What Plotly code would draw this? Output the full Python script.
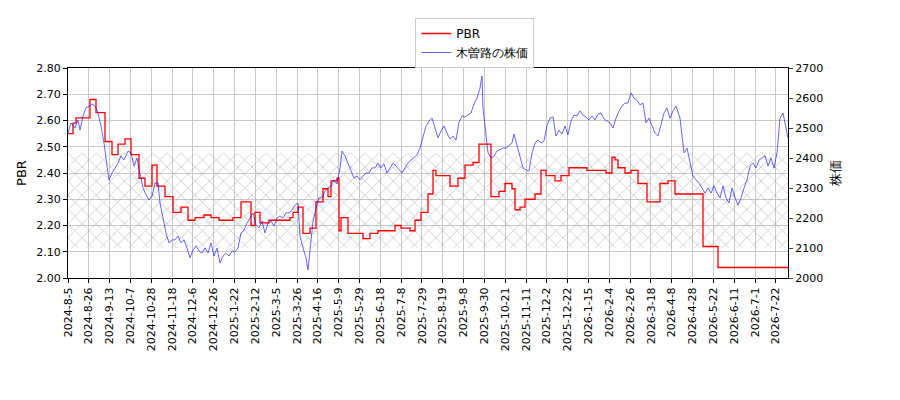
import plotly.graph_objects as go

# x positions are trading-session positions (evenly spaced sessions)
POS_SCALE = 14 / 20.82  # sessions per index unit

tick_labels = ["2024-8-5","2024-8-26","2024-9-13","2024-10-7","2024-10-28","2024-11-18","2024-12-6",
               "2024-12-26","2025-1-22","2025-2-12","2025-3-5","2025-3-26","2025-4-16","2025-5-9",
               "2025-5-29","2025-6-18","2025-7-8","2025-7-29","2025-8-19","2025-9-8","2025-9-30",
               "2025-10-21","2025-11-11","2025-12-2","2025-12-22","2026-1-15","2026-2-4","2026-2-26",
               "2026-3-18","2026-4-8","2026-4-28","2026-5-22","2026-6-11","2026-7-1","2026-7-22"]
tick_step = 14

pbr_idx = [0,5,8,22,28,37,44,50,57,63, 71,77,84,89,97,105,113,120,127,136,
           143,151,165,173,183,187,192,201,222,225, 230,235,242,248,255,260,263,269,271,273,
           280,295,302,310,327,333,342,347,353,360, 365,368,382,390,397,405,411,423,431,437,
           444,447,452,457,467,473,478,487,493,501, 519,538,544,547,550,557,563,570,579,592,
           600,607,635,650,720]
pbr_val = [2.55,2.59,2.61,2.68,2.63,2.52,2.47,2.51,2.53,2.47, 2.38,2.35,2.43,2.35,2.31,2.25,2.27,2.22,2.23,2.24,
           2.23,2.22,2.23,2.29,2.20,2.25,2.21,2.22,2.23,2.25, 2.27,2.17,2.19,2.29,2.34,2.31,2.37,2.38,2.18,2.23,
           2.17,2.15,2.17,2.18,2.20,2.19,2.18,2.22,2.25,2.32, 2.41,2.39,2.35,2.38,2.43,2.44,2.51,2.31,2.33,2.36,
           2.34,2.26,2.27,2.30,2.32,2.41,2.39,2.37,2.39,2.42, 2.41,2.40,2.46,2.45,2.42,2.40,2.41,2.36,2.29,2.36,
           2.37,2.32,2.12,2.04,2.04]

px_idx = [0,3,7,10,12,15,18,22,25,28, 30,33,36,39,41,44,47,50,53,56,
          60,63,66,69,72,75,78,81,84,87, 90,92,95,98,101,104,107,110,113,116,
          119,122,125,128,131,134,137,140,143,146, 149,152,155,158,161,164,167,170,173,176,
          179,182,185,188,191,194,197,200,203,206, 209,212,215,218,221,224,227,230,232,235,
          238,240,242,245,248,251,254,257,260,263, 266,269,272,274,277,280,283,286,289,292,
          295,298,301,304,307,310,313,316,319,322, 325,328,331,334,337,340,343,346,349,352,
          355,358,361,364,367,370,373,376,379,382, 385,388,391,394,397,400,403,406,409,412,
          414,415,417,420,423,426,429,432,435,438, 441,444,446,449,452,455,458,461,464,467,
          470,473,476,479,482,485,488,491,494,497, 500,503,506,509,512,515,518,521,524,527,
          530,533,536,539,542,545,548,551,554,557, 560,563,566,569,572,575,578,581,584,587,
          590,593,596,599,602,605,608,612,616,619, 622,625,628,631,634,637,640,643,646,649,
          652,655,658,661,664,667,670,673,676,679, 682,685,688,691,694,697,700,703,706,709,
          712,715,718,720]
price = [2483,2517,2500,2527,2493,2540,2567,2573,2580,2567, 2550,2507,2450,2373,2327,2350,2367,2383,2407,2393,
         2423,2417,2373,2400,2350,2300,2277,2260,2273,2317, 2317,2250,2200,2150,2117,2127,2127,2140,2117,2127,
         2100,2067,2093,2107,2090,2083,2100,2083,2117,2073, 2100,2050,2073,2083,2073,2090,2087,2100,2150,2160,
         2183,2200,2217,2177,2167,2190,2150,2183,2190,2173, 2200,2207,2200,2217,2217,2227,2243,2250,2140,2100,
         2067,2027,2100,2190,2233,2267,2267,2290,2300,2307, 2327,2313,2367,2423,2407,2383,2360,2333,2340,2327,
         2340,2350,2350,2367,2367,2383,2367,2380,2350,2367, 2383,2373,2360,2350,2367,2383,2393,2400,2410,2433,
         2467,2507,2523,2533,2500,2467,2490,2507,2483,2463, 2473,2460,2520,2540,2537,2543,2550,2580,2600,2633,
         2673,2567,2500,2417,2400,2407,2423,2427,2433,2433, 2440,2450,2480,2440,2400,2367,2360,2357,2417,2450,
         2460,2450,2457,2507,2533,2537,2473,2493,2480,2507, 2477,2523,2543,2540,2557,2543,2537,2527,2540,2527,
         2547,2550,2530,2523,2517,2500,2533,2557,2573,2583, 2583,2617,2600,2593,2577,2583,2517,2533,2510,2483,
         2473,2517,2550,2567,2533,2557,2573,2533,2417,2433, 2383,2340,2327,2317,2300,2283,2300,2283,2307,2283,
         2267,2307,2267,2250,2300,2267,2243,2267,2300,2327, 2373,2383,2367,2393,2400,2407,2373,2400,2367,2417,
         2533,2550,2500,2467]

band_low, band_high = 2.115, 2.475

pbr_x = [i * POS_SCALE for i in pbr_idx]
price_x = [i * POS_SCALE for i in px_idx]
x_end = 720 * POS_SCALE
tickvals = [k * tick_step for k in range(len(tick_labels))]

fig = go.Figure()
fig.add_trace(go.Scatter(
    x=[0, x_end, x_end, 0, 0],
    y=[band_low, band_low, band_high, band_high, band_low],
    mode="lines", line=dict(width=0), fill="toself", fillcolor="rgba(0,0,0,0)",
    fillpattern=dict(shape="x", fgcolor="#8c8c8c", bgcolor="rgba(0,0,0,0)", size=10, solidity=0.15),
    showlegend=False, hoverinfo="skip"))
fig.add_trace(go.Scatter(x=pbr_x, y=pbr_val, mode="lines", name="PBR",
                         line=dict(color="#ff0000", width=1.3, shape="hv")))
fig.add_trace(go.Scatter(x=price_x, y=price, mode="lines", name="木曽路の株価",
                         line=dict(color="#0000ff", width=0.8), opacity=0.75, yaxis="y2"))

axis_common = dict(showline=True, linecolor="black", linewidth=1, ticks="outside",
                   ticklen=4, tickcolor="black", showgrid=True, gridcolor="#c8c8c8",
                   tickfont=dict(size=11, color="black"), zeroline=False)
fig.update_layout(
    width=900, height=400, plot_bgcolor="white", paper_bgcolor="white",
    font=dict(family="DejaVu Sans", size=11, color="black"),
    margin=dict(l=60, r=120, t=60, b=130, autoexpand=False),
    xaxis=dict(range=[0, x_end], tickvals=tickvals, ticktext=tick_labels,
               tickangle=-90, mirror=True, **axis_common),
    yaxis=dict(range=[2.0, 2.8], dtick=0.1, tickformat=".2f", mirror=True,
               title=dict(text="PBR", standoff=6), **axis_common),
    yaxis2=dict(range=[2000, 2700], dtick=100, overlaying="y", side="right",
                title=dict(text="株価", standoff=8), showline=True, linecolor="black",
                ticks="outside", ticklen=4, showgrid=False, zeroline=False,
                tickfont=dict(size=11, color="black")),
    legend=dict(x=0.565, y=0.975, xanchor="center", yanchor="top", xref="paper", yref="container",
                bordercolor="#cccccc", borderwidth=1, bgcolor="white", font=dict(size=12)),
    showlegend=True,
)
fig.write_html("out.html")
